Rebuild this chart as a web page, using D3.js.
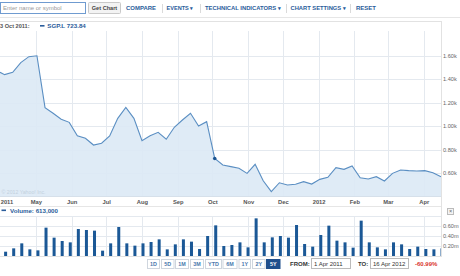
<!DOCTYPE html>
<html>
<head>
<meta charset="utf-8">
<script src="https://cdn.jsdelivr.net/npm/d3@7"></script>
<style>
body { margin: 0; background: #fff; }
svg { display: block; font-family: "Liberation Sans", Arial, sans-serif; }
</style>
</head>
<body>
<svg width="460" height="276"></svg>
<script>
// weekly closes of SGP.L, 31 Mar 2011 - 16 Apr 2012
var priceDates = ["2011-03-31","2011-04-04","2011-04-11","2011-04-18","2011-04-25","2011-05-02","2011-05-09",
  "2011-05-16","2011-05-23","2011-05-30","2011-06-06","2011-06-13","2011-06-20","2011-06-27","2011-07-04",
  "2011-07-11","2011-07-18","2011-07-25","2011-08-01","2011-08-08","2011-08-15","2011-08-22","2011-08-29",
  "2011-09-05","2011-09-12","2011-09-19","2011-09-26","2011-10-03","2011-10-10","2011-10-17","2011-10-24",
  "2011-10-31","2011-11-07","2011-11-14","2011-11-21","2011-11-28","2011-12-05","2011-12-12","2011-12-19",
  "2011-12-26","2012-01-02","2012-01-09","2012-01-16","2012-01-23","2012-01-30","2012-02-06","2012-02-13",
  "2012-02-20","2012-02-27","2012-03-05","2012-03-12","2012-03-19","2012-03-26","2012-04-02","2012-04-09",
  "2012-04-16"];
var prices = [1457, 1437, 1457, 1539, 1590, 1598, 1156, 1108, 1057, 1031, 917, 895, 838, 853, 915,
  1065, 1159, 1065, 875, 917, 946, 887, 989, 1051, 1108, 1000, 1037, 723.84, 668, 654, 640,
  597, 674, 534, 441, 517, 498, 504, 526, 506, 546, 563, 645, 631, 660, 560, 549,
  569, 532, 597, 626, 620, 617, 620, 603, 569];

// weekly volume in millions, from 4 Apr 2011
var volDates = priceDates.slice(1);
var volumes = [0.086, 0.153, 0.253, 0.133, 0.113, 0.567, 0.367, 0.30, 0.273, 0.54, 0.52, 0.507, 0.107,
  0.253, 0.58, 0.253, 0.207, 0.253, 0.28, 0.333, 0.133, 0.233, 0.333, 0.287, 0.14, 0.40, 0.613, 0.20,
  0.22, 0.273, 0.173, 0.753, 0.273, 0.373, 0.40, 0.367, 0.62, 0.24, 0.187, 0.42, 0.607, 0.307, 0.273,
  0.167, 0.707, 0.273, 0.173, 0.133, 0.273, 0.233, 0.14, 0.187, 0.14, 0.133, 0.153];

var monthTicks = ["2011-04-01","2011-05-01","2011-06-01","2011-07-01","2011-08-01","2011-09-01","2011-10-01",
  "2011-11-01","2011-12-01","2012-01-01","2012-02-01","2012-03-01","2012-04-01"];
var monthLabels = ["2011","May","Jun","Jul","Aug","Sep","Oct","Nov","Dec","2012","Feb","Mar","Apr"];
var priceTicks = [600, 800, 1000, 1200, 1400, 1600];
var volTicks = [0.2, 0.4, 0.6];
var rangeButtons = ["1D","5D","1M","3M","YTD","6M","1Y","2Y","5Y"];
var changeText = "-60.99%";

var parse = d3.timeParse("%Y-%m-%d");
var svg = d3.select("svg");

var blue = "#2a5d9b", lineCol = "#5a8ec2", fillCol = "#dce9f5", gridCol = "#e4e9ef";

var x = d3.scaleTime().domain([parse("2011-03-31"), parse("2012-04-16")]).range([0, 441]);
var y = d3.scaleLinear().domain([600, 1600]).range([173, 55.5]);
var yv = d3.scaleLinear().domain([0, 0.6]).range([256, 226]);

var plotTop = 31, plotBot = 196, volTop = 216, volBot = 256, plotR = 441;

// ---- toolbar ----
svg.append("rect").attr("x", 0.5).attr("y", 2.5).attr("width", 85).attr("height", 11)
  .attr("fill", "#fff").attr("stroke", "#6f9bd0");
svg.append("text").attr("x", 3).attr("y", 10.3).attr("font-size", 6).attr("fill", "#999")
  .text("Enter name or symbol");
svg.append("rect").attr("x", 88.5).attr("y", 2.5).attr("width", 32).attr("height", 11)
  .attr("fill", "#f3f3f3").attr("stroke", "#c9c9c9").attr("rx", 1);
svg.append("text").attr("x", 104.5).attr("y", 10.3).attr("font-size", 5.6).attr("font-weight", "bold")
  .attr("text-anchor", "middle").attr("fill", "#444").text("Get Chart");

var menu = [["COMPARE", 126, 30], ["EVENTS \u25BE", 166.5, 27], ["TECHNICAL INDICATORS \u25BE", 205, 76],
  ["CHART SETTINGS \u25BE", 290.5, 55.5], ["RESET", 356, 20]];
svg.selectAll(".menu").data(menu).enter().append("text")
  .attr("x", d => d[1]).attr("y", 9.8).attr("font-size", 5.4).attr("font-weight", "bold")
  .attr("fill", blue).attr("textLength", d => d[2]).attr("lengthAdjust", "spacingAndGlyphs")
  .text(d => d[0]);
[162, 200, 286, 350].forEach(function(sx) {
  svg.append("line").attr("x1", sx + 0.5).attr("x2", sx + 0.5).attr("y1", 4).attr("y2", 13)
    .attr("stroke", "#dadada");
});
svg.append("line").attr("x1", 0).attr("x2", 460).attr("y1", 17.5).attr("y2", 17.5).attr("stroke", "#e6e6e6");

// ---- frame ----
svg.append("rect").attr("x", -1).attr("y", 21.5).attr("width", plotR + 1.5).attr("height", 235)
  .attr("fill", "none").attr("stroke", "#e2e2e2");

// header
svg.append("text").attr("x", 0).attr("y", 27.8).attr("font-size", 5.6).attr("font-weight", "bold")
  .attr("fill", "#555").text("3 Oct 2011:");
svg.append("rect").attr("x", 40).attr("y", 25).attr("width", 4.5).attr("height", 1.6).attr("fill", blue);
svg.append("text").attr("x", 47.3).attr("y", 27.8).attr("font-size", 5.6).attr("font-weight", "bold")
  .attr("fill", blue).attr("textLength", 38.5).attr("lengthAdjust", "spacingAndGlyphs")
  .text("SGP.L " + d3.format(".2f")(prices[27]));

// ---- price pane ----
var ticksM = monthTicks.map(parse);
svg.append("g").selectAll("line").data(ticksM.slice(1)).enter().append("line")
  .attr("x1", d => Math.round(x(d)) + 0.5).attr("x2", d => Math.round(x(d)) + 0.5)
  .attr("y1", plotTop).attr("y2", plotBot).attr("stroke", gridCol);
svg.append("g").selectAll("line").data(priceTicks).enter().append("line")
  .attr("x1", 0).attr("x2", plotR).attr("y1", d => Math.round(y(d)) + 0.5).attr("y2", d => Math.round(y(d)) + 0.5)
  .attr("stroke", gridCol);

var pts = priceDates.map((d, i) => ({ date: parse(d), v: prices[i] }));
var area = d3.area().x(d => x(d.date)).y0(plotBot).y1(d => y(d.v));
var line = d3.line().x(d => x(d.date)).y(d => y(d.v));
svg.append("path").datum(pts).attr("d", area).attr("fill", fillCol).attr("fill-opacity", 0.9);
svg.append("path").datum(pts).attr("d", line).attr("fill", "none").attr("stroke", lineCol).attr("stroke-width", 1.1);
svg.append("circle").attr("cx", x(pts[27].date)).attr("cy", y(pts[27].v)).attr("r", 1.8).attr("fill", "#1d5592");

svg.append("text").attr("x", 1.5).attr("y", 194).attr("font-size", 5.2).attr("fill", "#c3d1de")
  .text("\u00A9 2012 Yahoo! Inc.");
svg.append("line").attr("x1", 0).attr("x2", plotR).attr("y1", plotBot + 0.5).attr("y2", plotBot + 0.5).attr("stroke", "#d6e0ea");
svg.append("line").attr("x1", plotR + 0.5).attr("x2", plotR + 0.5).attr("y1", plotTop).attr("y2", volBot).attr("stroke", "#e2e2e2");

// price axis
var yAxis = svg.append("g").attr("transform", "translate(" + (plotR + 1) + ",0)")
  .call(d3.axisRight(y).tickValues(priceTicks).tickSize(0).tickPadding(1)
    .tickFormat(d => (d / 1000).toFixed(2) + "k"));
yAxis.select(".domain").remove();
yAxis.selectAll("text").attr("font-size", 5.6).attr("fill", "#666").attr("font-family", null);

// month axis
var xAxis = svg.append("g").attr("transform", "translate(0," + plotBot + ")")
  .call(d3.axisBottom(x).tickValues(ticksM).tickSize(0).tickPadding(4)
    .tickFormat((d, i) => monthLabels[i]));
xAxis.select(".domain").remove();
xAxis.selectAll("text").attr("font-size", 5.8).attr("font-weight", "bold").attr("fill", "#555")
  .attr("font-family", null);
xAxis.select(".tick text").attr("text-anchor", "start").attr("x", -1);

svg.append("line").attr("x1", 0).attr("x2", plotR).attr("y1", 206.5).attr("y2", 206.5).attr("stroke", "#e6e6e6");

// ---- volume pane ----
svg.append("rect").attr("x", 1.5).attr("y", 209.5).attr("width", 4.5).attr("height", 1.6).attr("fill", blue);
svg.append("text").attr("x", 10).attr("y", 212.6).attr("font-size", 5.6).attr("font-weight", "bold")
  .attr("fill", blue).attr("textLength", 48).attr("lengthAdjust", "spacingAndGlyphs")
  .text("Volume: " + d3.format(",")(Math.round(volumes[26] * 1e6)));

svg.append("g").selectAll("line").data(ticksM.slice(1)).enter().append("line")
  .attr("x1", d => Math.round(x(d)) + 0.5).attr("x2", d => Math.round(x(d)) + 0.5)
  .attr("y1", volTop).attr("y2", volBot).attr("stroke", gridCol);
svg.append("g").selectAll("line").data([0.8].concat(volTicks)).enter().append("line")
  .attr("x1", 0).attr("x2", plotR).attr("y1", d => Math.round(yv(d)) + 0.5).attr("y2", d => Math.round(yv(d)) + 0.5)
  .attr("stroke", gridCol);

svg.append("clipPath").attr("id", "clipv").append("rect")
  .attr("x", 0).attr("y", volTop).attr("width", plotR).attr("height", volBot - volTop);
svg.append("g").attr("clip-path", "url(#clipv)").selectAll("rect")
  .data(volDates.map((d, i) => ({ date: parse(d), v: volumes[i] }))).enter().append("rect")
  .attr("x", d => x(d.date) - 0.5).attr("width", 3)
  .attr("y", d => yv(d.v)).attr("height", d => volBot - yv(d.v))
  .attr("fill", "#1b5896");

var vAxis = svg.append("g").attr("transform", "translate(" + (plotR + 1) + ",0)")
  .call(d3.axisRight(yv).tickValues(volTicks).tickSize(0).tickPadding(1)
    .tickFormat(d => d.toFixed(2) + "m"));
vAxis.select(".domain").remove();
vAxis.selectAll("text").attr("font-size", 5.6).attr("fill", "#666").attr("font-family", null);

// close box
svg.append("rect").attr("x", 447.5).attr("y", 208.5).attr("width", 6).attr("height", 6)
  .attr("fill", "#f4f4f4").attr("stroke", "#bbb");
svg.append("text").attr("x", 450.5).attr("y", 213.3).attr("font-size", 5.5).attr("text-anchor", "middle")
  .attr("fill", "#666").text("\u00D7");

// ---- range buttons ----
var btnX = [147, 161, 175, 190, 205, 222.5, 238.5, 252, 266];
var btnW = [12, 12.5, 13, 13, 16, 14, 11.5, 12.5, 13.5];
var btn = svg.append("g").selectAll("g").data(rangeButtons).enter().append("g");
btn.append("rect").attr("x", (d, i) => btnX[i] + 0.5).attr("y", 259.5).attr("width", (d, i) => btnW[i])
  .attr("height", 9).attr("fill", d => d === "5Y" ? "#1f4f8c" : "#fff")
  .attr("stroke", d => d === "5Y" ? "#1f4f8c" : "#cfd6de");
btn.append("text").attr("x", (d, i) => btnX[i] + 0.5 + btnW[i] / 2).attr("y", 266.2)
  .attr("text-anchor", "middle").attr("font-size", 5.4).attr("font-weight", "bold")
  .attr("fill", d => d === "5Y" ? "#fff" : "#4a78ad").text(d => d);

svg.append("text").attr("x", 290).attr("y", 266.3).attr("font-size", 6).attr("font-weight", "bold")
  .attr("fill", "#333").text("FROM:");
svg.append("rect").attr("x", 311.5).attr("y", 258.5).attr("width", 39).attr("height", 10)
  .attr("fill", "#fff").attr("stroke", "#bbb");
svg.append("text").attr("x", 314).attr("y", 266.2).attr("font-size", 6).attr("fill", "#333").text("1 Apr 2011");
svg.append("text").attr("x", 358).attr("y", 266.3).attr("font-size", 6).attr("font-weight", "bold")
  .attr("fill", "#333").text("TO:");
svg.append("rect").attr("x", 370.5).attr("y", 258.5).attr("width", 38).attr("height", 10)
  .attr("fill", "#fff").attr("stroke", "#bbb");
svg.append("text").attr("x", 373).attr("y", 266.2).attr("font-size", 6).attr("fill", "#333").text("16 Apr 2012");
svg.append("text").attr("x", 415).attr("y", 266.3).attr("font-size", 6).attr("font-weight", "bold")
  .attr("fill", "#d9342b").text(changeText);
</script>
</body>
</html>
